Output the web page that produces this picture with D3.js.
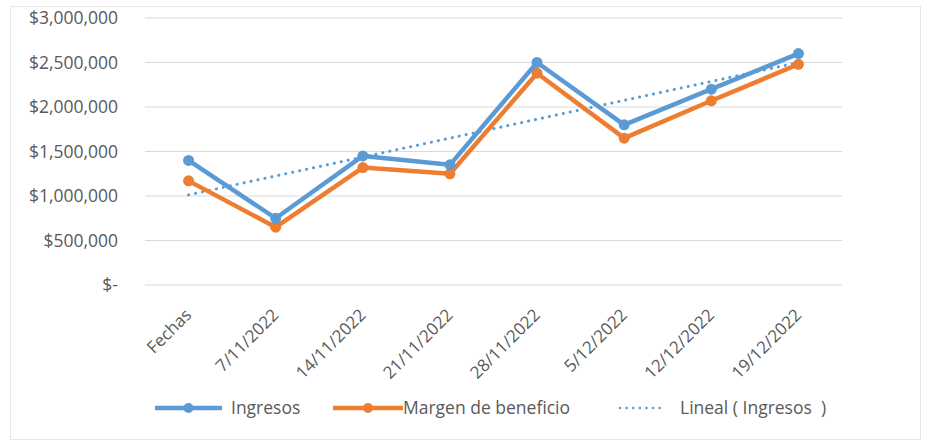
<!DOCTYPE html>
<html>
<head>
<meta charset="utf-8">
<script src="https://cdn.jsdelivr.net/npm/d3@7"></script>
<style>
  body { margin: 0; background: #fff; }
  svg text { font-family: "Open Sans", "Liberation Sans", sans-serif; fill: #595959; }
</style>
</head>
<body>
<svg id="chart" width="927" height="446"></svg>
<script>
const categories = ['Fechas','7/11/2022','14/11/2022','21/11/2022','28/11/2022','5/12/2022','12/12/2022','19/12/2022']
const ingresos = [1400000, 750000, 1450000, 1350000, 2500000, 1800000, 2200000, 2600000]
const margen = [1170000, 650000, 1320000, 1250000, 2380000, 1650000, 2070000, 2480000]
const yTicks = [0, 500000, 1000000, 1500000, 2000000, 2500000, 3000000]

const BLUE = '#5b9bd5', ORANGE = '#ed7d31'
const svg = d3.select('#chart')

// outer frame
svg.append('rect').attr('x', 10.5).attr('y', 6.5).attr('width', 910).attr('height', 433)
  .attr('fill', 'none').attr('stroke', '#e6e6e6')

const x = d3.scaleBand().domain(categories).range([145, 842])
const y = d3.scaleLinear().domain([0, 3000000]).range([285, 18])
const cx = c => x(c) + x.bandwidth()/2

// gridlines
svg.append('g').selectAll('line').data(yTicks).join('line')
  .attr('x1', 145).attr('x2', 842)
  .attr('y1', d => y(d)).attr('y2', d => y(d))
  .attr('stroke', '#d9d9d9').attr('stroke-width', 1)

// y labels
const fmt = d => d === 0 ? '$-' : '$' + d3.format(',')(d)
svg.append('g').selectAll('text').data(yTicks).join('text')
  .attr('x', 118).attr('y', d => y(d)).attr('dy', '0.35em')
  .attr('text-anchor', 'end').attr('font-size', 17.5)
  .text(fmt)

// x labels rotated
svg.append('g').selectAll('text').data(categories).join('text')
  .attr('transform', d => `translate(${cx(d)+4},${316}) rotate(-45)`)
  .attr('text-anchor', 'end').attr('font-size', 17)
  .text(d => d)

// trendline (least squares on Ingresos)
const xs = ingresos.map((_, i) => i + 1)
const mx = d3.mean(xs), my = d3.mean(ingresos)
const slope = d3.sum(xs, (v, i) => (v - mx) * (ingresos[i] - my)) / d3.sum(xs, v => (v - mx) ** 2)
const inter = my - slope * mx
const trend = xs.map(v => inter + slope * v)

const line = d3.line().x((d, i) => cx(categories[i])).y(d => y(d))

svg.append('path').datum(trend).attr('d', line)
  .attr('fill', 'none').attr('stroke', BLUE).attr('stroke-width', 3)
  .attr('stroke-dasharray', '0.1 7').attr('stroke-linecap', 'round')

function series(data, color){
  const g = svg.append('g')
  g.append('path').datum(data).attr('d', line)
    .attr('fill', 'none').attr('stroke', color).attr('stroke-width', 4.5)
    .attr('stroke-linejoin', 'round')
  g.selectAll('circle').data(data).join('circle')
    .attr('cx', (d, i) => cx(categories[i])).attr('cy', d => y(d))
    .attr('r', 5.5).attr('fill', color)
}
series(margen, ORANGE)
series(ingresos, BLUE)

// legend
const legend = [
  { label: 'Ingresos', color: BLUE, x: 155, w: 67, tx: 231, type: 'line' },
  { label: 'Margen de beneficio', color: ORANGE, x: 333, w: 70, tx: 403, type: 'line' },
  { label: 'Lineal ( Ingresos  )', color: BLUE, x: 620, w: 45, tx: 680, type: 'dot' }
]
const lg = svg.append('g')
legend.forEach(l => {
  const ly = 408
  if(l.type === 'line'){
    lg.append('line').attr('x1', l.x).attr('x2', l.x + l.w).attr('y1', ly).attr('y2', ly)
      .attr('stroke', l.color).attr('stroke-width', 4.5)
    lg.append('circle').attr('cx', l.x + l.w/2).attr('cy', ly).attr('r', 5).attr('fill', l.color)
  } else {
    lg.append('line').attr('x1', l.x).attr('x2', l.x + l.w).attr('y1', ly).attr('y2', ly)
      .attr('stroke', l.color).attr('stroke-width', 2.5)
      .attr('stroke-dasharray', '0.1 6.5').attr('stroke-linecap', 'round')
  }
  lg.append('text').attr('x', l.tx).attr('y', ly).attr('dy', '0.35em')
    .attr('font-size', 17.5).attr('xml:space', 'preserve').style('white-space', 'pre').text(l.label)
})
</script>
</body>
</html>
